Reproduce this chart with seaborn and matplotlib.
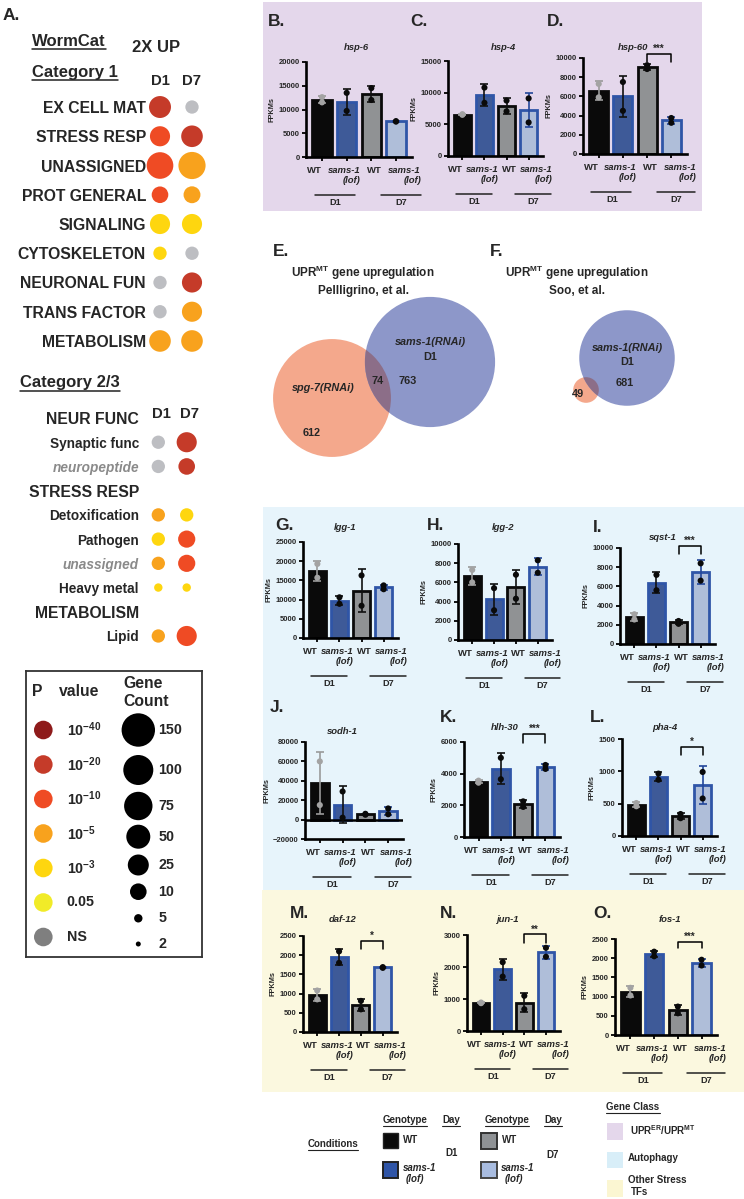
import numpy as np
import pandas as pd
import matplotlib.pyplot as plt
import seaborn as sns
from matplotlib.patches import Rectangle, Circle
from matplotlib.transforms import ScaledTranslation

W, H = 744, 1199

# Panel A: WormCat enrichment (p value class, gene count) for D1 / D7
cat1_terms = ['EX CELL MAT', 'STRESS RESP', 'UNASSIGNED', 'PROT GENERAL', 'SIGNALING',
              'CYTOSKELETON', 'NEURONAL FUN', 'TRANS FACTOR', 'METABOLISM']
cat1_p_d1 = ['1e-20', '1e-10', '1e-10', '1e-10', '1e-3', '1e-3', 'NS', 'NS', '1e-5']
cat1_p_d7 = ['NS', '1e-20', '1e-5', '1e-5', '1e-3', 'NS', '1e-20', '1e-5', '1e-5']
cat1_n_d1 = [33, 22, 65, 10, 22, 8, 8, 8, 30]
cat1_n_d7 = [8, 30, 68, 11, 22, 8, 22, 22, 30]

cat2_terms = ['NEUR FUNC', 'Synaptic func', 'neuropeptide', 'STRESS RESP', 'Detoxification',
              'Pathogen', 'unassigned', 'Heavy metal', 'METABOLISM', 'Lipid']
cat2_headers = ['NEUR FUNC', 'STRESS RESP', 'METABOLISM']
cat2_p_d1 = [None, 'NS', 'NS', None, '1e-5', '1e-3', '1e-5', '1e-3', None, '1e-5']
cat2_p_d7 = [None, '1e-20', '1e-20', None, '1e-3', '1e-10', '1e-10', '1e-3', None, '1e-10']
cat2_n_d1 = [0, 8, 8, 0, 8, 8, 8, 5, 0, 8]
cat2_n_d7 = [0, 22, 10, 0, 8, 12, 12, 5, 0, 22]

p_levels = ['1e-40', '1e-20', '1e-10', '1e-5', '1e-3', '0.05', 'NS']
p_labels = ['10$^{-40}$', '10$^{-20}$', '10$^{-10}$', '10$^{-5}$', '10$^{-3}$', '0.05', 'NS']
count_levels = [150, 100, 75, 50, 25, 10, 5, 2]
count_radius = [16.7, 15, 14.2, 12, 10.5, 8.3, 4.2, 2.5]  # legend dot radius, px

# Venn counts: [only first, overlap, only sams-1(RNAi)]
venn_pell = [612, 74, 763]
venn_soo = [49, 0, 681]

# Bar panels: two replicate FPKM values per condition
conds = ['WT D1', 'sams-1 D1', 'WT D7', 'sams-1 D7']
hsp6 = [12600, 11500, 13500, 9700, 14500, 12000, 7550, 7450]
hsp4 = [6600, 6500, 10800, 8400, 8750, 7050, 9100, 5300]
hsp60 = [7300, 5900, 7500, 4500, 9250, 8850, 3750, 3250]
lgg1 = [19300, 15700, 10600, 8900, 16300, 8400, 13700, 12700]
lgg2 = [7300, 6000, 5400, 3100, 6800, 4300, 8300, 7000]
sqst1 = [3100, 2550, 7200, 5600, 2400, 2100, 8400, 6600]
sodh1 = [60000, 15000, 29000, 2000, 6000, 5000, 11500, 5500]
hlh30 = [3430, 3560, 5000, 3650, 2250, 1900, 4550, 4300]
pha4 = [510, 460, 965, 870, 340, 275, 990, 580]
daf12 = [1080, 850, 2100, 1800, 810, 590, 1690, 1670]
jun1 = [890, 870, 2150, 1700, 1100, 680, 2600, 2320]
fos1 = [1230, 1030, 2170, 2050, 740, 565, 1960, 1810]

# colours
bar_fill = {'WT D1': '#0A0A0A', 'sams-1 D1': '#2F55A7', 'WT D7': '#8F9295', 'sams-1 D7': '#A8BCE0'}
bar_edge = {'WT D1': '#0A0A0A', 'sams-1 D1': '#2F55A7', 'WT D7': '#0A0A0A', 'sams-1 D7': '#2F55A7'}
dot_col = {'WT D1': '#A3A3A3', 'sams-1 D1': '#0A0A0A', 'WT D7': '#0A0A0A', 'sams-1 D7': '#0A0A0A'}
err_col = {'WT D1': '#9A9A9A', 'sams-1 D1': '#111111', 'WT D7': '#111111', 'sams-1 D7': '#23479A'}
pal_plot = {'1e-40': '#8E1B1B', '1e-20': '#C53B29', '1e-10': '#EF4B24', '1e-5': '#F8A21D',
            '1e-3': '#FED60F', '0.05': '#F1EB28', 'NS': '#BDBEC2'}
pal_legend = dict(pal_plot, NS='#7F7F7F')

sns.set_theme(style='white')
plt.rcParams['font.family'] = ['Liberation Sans', 'DejaVu Sans']
plt.rcParams['font.weight'] = 'bold'
plt.rcParams['axes.labelweight'] = 'bold'
plt.rcParams['mathtext.fontset'] = 'custom'
plt.rcParams['mathtext.rm'] = 'Liberation Sans:bold'
plt.rcParams['mathtext.it'] = 'Liberation Sans:bold:italic'
plt.rcParams['mathtext.bf'] = 'Liberation Sans:bold'
plt.rcParams['mathtext.default'] = 'rm'

fig = plt.figure(figsize=(W / 100, H / 100), dpi=100)


def pix_axes(x0, y0, x1, y1, **kw):
    return fig.add_axes([x0 / W, 1 - y1 / H, (x1 - x0) / W, (y1 - y0) / H], **kw)


def count_area(n):
    r = np.interp(n, count_levels[::-1], count_radius[::-1])
    return (2 * r * 0.72) ** 2


bg = pix_axes(0, 0, W, H, zorder=-5)
bg.set_xlim(0, W)
bg.set_ylim(H, 0)
bg.axis('off')
ov = pix_axes(0, 0, W, H, zorder=10)
ov.set_xlim(0, W)
ov.set_ylim(H, 0)
ov.axis('off')

underlined = []

# backgrounds for gene classes
bg.add_patch(Rectangle((263, 2), 439, 209, color='#E4D7EB', lw=0))
bg.add_patch(Rectangle((263, 507), 481, 383, color='#E7F4FB', lw=0))
bg.add_patch(Rectangle((262, 890), 482, 202, color='#FBF8DF', lw=0))

# ---------------- Panel A ----------------
ov.text(3, 16, 'A.', fontsize=12.5, va='center')
underlined.append(ov.text(32, 41, 'WormCat', fontsize=12, va='center'))
ov.text(132, 47, '2X UP', fontsize=12, va='center')
underlined.append(ov.text(32, 72, 'Category 1', fontsize=12, va='center'))
underlined.append(ov.text(20, 383, 'Category 2/3', fontsize=12, va='center'))


def dot_frame(terms, p_d1, p_d7, n_d1, n_d7):
    rows = []
    for i, t in enumerate(terms):
        for d, p, n in ((0, p_d1[i], n_d1[i]), (1, p_d7[i], n_d7[i])):
            if p is not None:
                rows.append({'x': d, 'y': i, 'p': p, 'area': count_area(n)})
    return pd.DataFrame(rows)


amin, amax = count_area(2), count_area(150)

ax1 = pix_axes(150.4, 92.4, 208, 355.6)
d1 = dot_frame(cat1_terms, cat1_p_d1, cat1_p_d7, cat1_n_d1, cat1_n_d7)
sns.scatterplot(data=d1, x='x', y='y', hue='p', palette=pal_plot, size='area',
                sizes=(amin, amax), size_norm=(amin, amax), linewidth=0, legend=False, ax=ax1)
ax1.set_xlim(-0.3, 1.5)
ax1.set_ylim(len(cat1_terms) - 0.5, -0.5)
ax1.set_yticks(range(len(cat1_terms)))
ax1.set_yticklabels(cat1_terms, fontsize=11.3)
ax1.xaxis.tick_top()
ax1.set_xticks([0, 1])
ax1.set_xticklabels(['D1', 'D7'], fontsize=10.7)
ax1.tick_params(length=0, pad=3)
ax1.tick_params(axis='y', pad=3.2)
ax1.set_xlabel('')
ax1.set_ylabel('')
ax1.set_facecolor('none')
for s in ax1.spines.values():
    s.set_visible(False)

ax2 = pix_axes(149.8, 405.9, 200.9, 648.1)
d2 = dot_frame(cat2_terms, cat2_p_d1, cat2_p_d7, cat2_n_d1, cat2_n_d7)
sns.scatterplot(data=d2, x='x', y='y', hue='p', palette=pal_plot, size='area',
                sizes=(amin, amax), size_norm=(amin, amax), linewidth=0, legend=False, ax=ax2)
ax2.set_xlim(-0.3, 1.5)
ax2.set_ylim(len(cat2_terms) - 0.5, -0.5)
ax2.set_yticks(range(len(cat2_terms)))
ax2.set_yticklabels(cat2_terms)
for lab in ax2.get_yticklabels():
    t = lab.get_text()
    if t in cat2_headers:
        lab.set_fontsize(11.3)
    else:
        lab.set_fontsize(9.8)
    if t in ('neuropeptide', 'unassigned'):
        lab.set_color('#8A8A8A')
        lab.set_style('italic')
ax2.set_xticks([])
ax2.tick_params(length=0, pad=7.8)
for i, d in enumerate(['D1', 'D7']):
    ax2.text(i + 0.1, -0.15, d, fontsize=10.7, ha='center', va='center')
ax2.set_xlabel('')
ax2.set_ylabel('')
ax2.set_facecolor('none')
for s in ax2.spines.values():
    s.set_visible(False)
for a in (ax1, ax2):
    for coll in a.collections:
        coll.set_clip_on(False)

# legend box
lg = pix_axes(26, 671, 202, 957)
lg.set_xlim(26, 202)
lg.set_ylim(957, 671)
lg.set_xticks([])
lg.set_yticks([])
lg.set_facecolor('none')
for s in lg.spines.values():
    s.set_visible(True)
    s.set_color('#333333')
    s.set_linewidth(1.3)
lg.text(32, 691, 'P', fontsize=11.3, va='center')
lg.text(59, 691, 'value', fontsize=11.3, va='center')
lg.text(123, 683, 'Gene', fontsize=11.3, va='center')
lg.text(123, 702, 'Count', fontsize=11.3, va='center')
p_y = np.linspace(730, 937, len(p_levels))
pdots = pd.DataFrame({'x': 43.3, 'y': p_y, 'p': p_levels})
sns.scatterplot(data=pdots, x='x', y='y', hue='p', palette=pal_legend, s=(2 * 9.3 * 0.72) ** 2,
                linewidth=0, legend=False, ax=lg)
for y, lab in zip(p_y, p_labels):
    lg.text(66.7, y, lab, fontsize=10.3, va='center')
c_y = [730, 770, 806, 836.7, 865, 891.7, 918.3, 944]
cdots = pd.DataFrame({'x': 138.3, 'y': c_y, 'area': [count_area(n) for n in count_levels]})
sns.scatterplot(data=cdots, x='x', y='y', size='area', sizes=(amin, amax), size_norm=(amin, amax),
                color='black', linewidth=0, legend=False, ax=lg)
for y, n in zip(c_y, count_levels):
    lg.text(158.3, y, str(n), fontsize=10.3, va='center')
lg.set_xlabel('')
lg.set_ylabel('')

# ---------------- Venn diagrams E, F ----------------
def venn(counts, centre_b, offset_a, k, col_a='#F4A88C', col_b='#8D97C9', col_ab='#8C6E88'):
    ra = k * np.sqrt(counts[0] + counts[1])
    rb = k * np.sqrt(counts[1] + counts[2])
    ca = (centre_b[0] + offset_a[0], centre_b[1] + offset_a[1])
    a = Circle(ca, ra, color=col_a, lw=0)
    b = Circle(centre_b, rb, color=col_b, lw=0)
    bg.add_patch(a)
    bg.add_patch(b)
    ab = Circle(ca, ra, color=col_ab, lw=0)
    bg.add_patch(ab)
    ab.set_clip_path(b)


venn(venn_pell, (430, 362), (-98, 36), 2.25)
venn(venn_soo, (627, 358), (-41, 32), 1.83)

ov.text(273, 251, 'E.', fontsize=12.5, va='center')
ov.text(490, 251, 'F.', fontsize=12.5, va='center')
ov.text(363, 280, 'UPR$^{\\mathrm{MT}}$ gene upregulation\nPellligrino, et al.', fontsize=8.5,
        ha='center', va='center', linespacing=1.35)
ov.text(577, 280, 'UPR$^{\\mathrm{MT}}$ gene upregulation\nSoo, et al.', fontsize=8.5,
        ha='center', va='center', linespacing=1.35)
ov.text(430, 342, 'sams-1(RNAi)', fontsize=7.8, style='italic', ha='center', va='center')
ov.text(430, 357, 'D1', fontsize=7.8, ha='center', va='center')
ov.text(378, 381, str(venn_pell[1]), fontsize=7.8, ha='center', va='center')
ov.text(408, 381, str(venn_pell[2]), fontsize=7.8, ha='center', va='center')
ov.text(323, 388, 'spg-7(RNAi)', fontsize=7.8, style='italic', ha='center', va='center')
ov.text(312, 433, str(venn_pell[0]), fontsize=7.8, ha='center', va='center')
ov.text(627, 348, 'sams-1(RNAi)', fontsize=7.8, style='italic', ha='center', va='center')
ov.text(627, 362, 'D1', fontsize=7.8, ha='center', va='center')
ov.text(625, 383, str(venn_soo[2]), fontsize=7.8, ha='center', va='center')
ov.text(578, 394, str(venn_soo[0]), fontsize=7.8, ha='center', va='center')

# ---------------- bar panels ----------------
panels = [
    dict(key='B', gene='hsp-6', reps=hsp6, box=(306, 62, 412, 157), ylim=(0, 20000), step=5000,
         letter=(268, 21), title=(356, 47), sig=None),
    dict(key='C', gene='hsp-4', reps=hsp4, box=(448, 61, 543, 156), ylim=(0, 15000), step=5000,
         letter=(410, 21), title=(503, 47), sig=None),
    dict(key='D', gene='hsp-60', reps=hsp60, box=(583, 58, 687, 154), ylim=(0, 10000), step=2000,
         letter=(547, 21), title=(633, 47), sig=('***', 10400, 800)),
    dict(key='G', gene='lgg-1', reps=lgg1, box=(303, 542, 398, 638), ylim=(0, 25000), step=5000,
         letter=(275, 525), title=(345, 528), sig=None),
    dict(key='H', gene='lgg-2', reps=lgg2, box=(458, 544, 552, 640), ylim=(0, 10000), step=2000,
         letter=(427, 525), title=(503, 528), sig=None),
    dict(key='I', gene='sqst-1', reps=sqst1, box=(620, 548, 715, 644), ylim=(0, 10000), step=2000,
         letter=(593, 527), title=(663, 537), sig=('***', 10250, 900)),
    dict(key='J', gene='sodh-1', reps=sodh1, box=(305, 742, 403, 839), ylim=(-20000, 80000), step=20000,
         letter=(270, 707), title=(342, 732), sig=None),
    dict(key='K', gene='hlh-30', reps=hlh30, box=(464, 742, 560, 837), ylim=(0, 6000), step=2000,
         letter=(440, 717), title=(505, 727), sig=('***', 6500, 550)),
    dict(key='L', gene='pha-4', reps=pha4, box=(622, 739, 717, 836), ylim=(0, 1500), step=500,
         letter=(590, 717), title=(665, 728), sig=('*', 1380, 125)),
    dict(key='M', gene='daf-12', reps=daf12, box=(303, 936, 397, 1032), ylim=(0, 2500), step=500,
         letter=(290, 914), title=(343, 920), sig=('*', 2370, 210)),
    dict(key='N', gene='jun-1', reps=jun1, box=(467, 935, 560, 1031), ylim=(0, 3000), step=1000,
         letter=(440, 914), title=(507, 920), sig=('**', 3020, 280)),
    dict(key='O', gene='fos-1', reps=fos1, box=(615, 939, 717, 1035), ylim=(0, 2500), step=500,
         letter=(593, 914), title=(670, 920), sig=('***', 2430, 175)),
]


def bar_panel(p):
    x0, y0, x1, y1 = p['box']
    ax = pix_axes(x0, y0, x1, y1)
    ax.set_facecolor('none')
    df = pd.DataFrame({'cond': np.repeat(conds, 2), 'value': p['reps']})
    sns.barplot(data=df, x='cond', y='value', hue='cond', order=conds, hue_order=conds,
                palette=bar_fill, errorbar=None, width=0.78, linewidth=2.0, dodge=False,
                legend=False, ax=ax)
    for bar, c in zip(sorted(ax.patches, key=lambda r: r.get_x()), conds):
        bar.set_edgecolor(bar_edge[c])
    stats = df.groupby('cond')['value'].agg(['mean', 'std']).reindex(conds)
    for i, c in enumerate(conds):
        ax.errorbar(i, stats.loc[c, 'mean'], yerr=stats.loc[c, 'std'], color=err_col[c],
                    capsize=3, elinewidth=1.2, capthick=1.2, zorder=3)
    sns.stripplot(data=df, x='cond', y='value', hue='cond', order=conds, hue_order=conds,
                  palette=dot_col, jitter=False, size=4.4, linewidth=0, legend=False, ax=ax, zorder=4)
    ylo, yhi = p['ylim']
    ax.set_xlim(-0.65, 3.65)
    ax.set_ylim(ylo, yhi)
    ax.set_yticks(np.arange(ylo, yhi + 1, p['step']))
    if ylo < 0:
        ax.axhline(0, color='black', lw=1.8, zorder=2)
    ax.set_xticks(range(4))
    ax.set_xticklabels([])
    ax.set_xlabel('')
    ax.set_ylabel('FPKMs', fontsize=5.3, labelpad=2)
    sns.despine(ax=ax)
    for s in ('left', 'bottom'):
        ax.spines[s].set_linewidth(1.9)
        ax.spines[s].set_color('black')
    ax.tick_params(axis='both', direction='out', length=3, width=1.3, color='black',
                   labelsize=5.5, pad=1.5, left=True, bottom=True)

    def below(dy):
        return ax.get_xaxis_transform() + ScaledTranslation(0, -dy / 100, fig.dpi_scale_trans)

    for xpos, lab in zip([-0.3, 0.9, 2.12, 3.35], ['WT', 'sams-1\n(lof)', 'WT', 'sams-1\n(lof)']):
        ax.text(xpos, 0, lab, transform=below(9), ha='center', va='top', fontsize=6.8,
                style='italic' if 'sams' in lab else 'normal', multialignment='right',
                linespacing=1.2)
    for (xa, xb), xc, d in (((-0.3, 1.35), 0.55, 'D1'), ((2.4, 4.0), 3.2, 'D7')):
        ax.plot([xa, xb], [0, 0], transform=below(38), color='#222222', lw=1.1, clip_on=False)
        ax.text(xc, 0, d, transform=below(41), ha='center', va='top', fontsize=6.6)
    if p['sig']:
        lab, top, leg = p['sig']
        ax.plot([2, 2, 3, 3], [top - leg, top, top, top - leg], color='black', lw=1.1, clip_on=False)
        ax.text(2.5, top, lab, ha='center', va='bottom', fontsize=7, clip_on=False)
    ov.text(*p['letter'], p['key'] + '.', fontsize=12.5, va='center')
    ov.text(*p['title'], p['gene'], fontsize=6.8, style='italic', ha='center', va='center')


for p in panels:
    bar_panel(p)

# ---------------- bottom legend ----------------
underlined.append(ov.text(333, 1144, 'Conditions', fontsize=7, ha='center', va='center'))
for x, t in ((405, 'Genotype'), (451, 'Day'), (507, 'Genotype'), (553, 'Day')):
    underlined.append(ov.text(x, 1120, t, fontsize=7, ha='center', va='center'))
ov.add_patch(Rectangle((383, 1133), 15, 15, facecolor=bar_fill['WT D1'], edgecolor='#222222', lw=1))
ov.add_patch(Rectangle((383, 1162), 15, 16, facecolor=bar_fill['sams-1 D1'], edgecolor='#222222', lw=1.4))
ov.add_patch(Rectangle((481, 1133), 16, 16, facecolor=bar_fill['WT D7'], edgecolor='#333333', lw=1.4))
ov.add_patch(Rectangle((481, 1162), 16, 16, facecolor=bar_fill['sams-1 D7'], edgecolor='#444444', lw=1.4))
ov.text(403, 1140, 'WT', fontsize=7, va='center')
ov.text(403, 1168, 'sams-1', fontsize=7, style='italic', va='center')
ov.text(406, 1179, '(lof)', fontsize=7, style='italic', va='center')
ov.text(452, 1153, 'D1', fontsize=7, ha='center', va='center')
ov.text(502, 1140, 'WT', fontsize=7, va='center')
ov.text(501, 1168, 'sams-1', fontsize=7, style='italic', va='center')
ov.text(505, 1179, '(lof)', fontsize=7, style='italic', va='center')
ov.text(553, 1155, 'D7', fontsize=7, ha='center', va='center')
underlined.append(ov.text(633, 1107, 'Gene Class', fontsize=7, ha='center', va='center'))
ov.add_patch(Rectangle((607, 1123), 16, 17, color='#E4D7EB', lw=0))
ov.add_patch(Rectangle((607, 1152), 16, 16, color='#D8EEF8', lw=0))
ov.add_patch(Rectangle((607, 1180), 16, 17, color='#FBF6D2', lw=0))
ov.text(630, 1130, 'UPR$^{\\mathrm{ER}}$/UPR$^{\\mathrm{MT}}$', fontsize=7, va='center')
ov.text(628, 1158, 'Autophagy', fontsize=7, va='center')
ov.text(628, 1180, 'Other Stress', fontsize=7, va='center')
ov.text(631, 1192, 'TFs', fontsize=7, va='center')

# underline headings
fig.canvas.draw()
inv = ov.transData.inverted()
for t in underlined:
    bb = t.get_window_extent()
    (xa, ya), (xb, _) = inv.transform([[bb.x0, bb.y0], [bb.x1, bb.y0]])
    ov.plot([xa, xb], [ya + 0.5, ya + 0.5], color='#222222', lw=1.1 if t.get_fontsize() > 9 else 0.8)

fig.savefig('out.png', dpi=100)
